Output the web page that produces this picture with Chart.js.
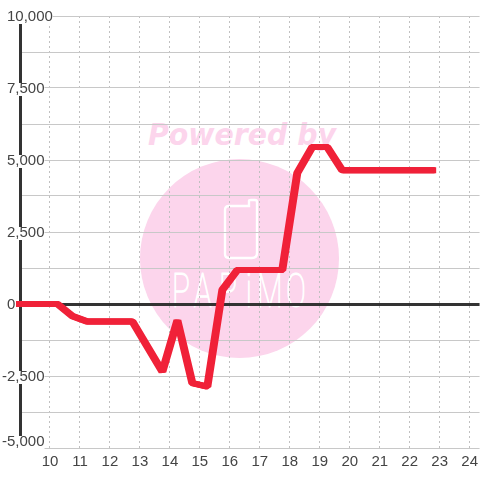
<!DOCTYPE html>
<html>
<head>
<meta charset="utf-8">
<style>
  html, body { margin: 0; background: #fff; }
  #wrap { position: relative; width: 480px; height: 480px; overflow: hidden; }
  #mark { position: absolute; left: 0; top: 0; }
  #chartBox { position: absolute; left: 0; top: 0; width: 483px; height: 480px; }
</style>
<script src="https://cdn.jsdelivr.net/npm/chart.js@4"></script>
</head>
<body>
<div id="wrap">
  <svg id="mark" width="480" height="480">
    <circle cx="239.5" cy="258.5" r="99.5" fill="#fcd5ec"/>
    <text x="148" y="145" textLength="188" lengthAdjust="spacingAndGlyphs" font-family="DejaVu Sans" font-weight="bold" font-style="italic" font-size="30" fill="#fcd5ec">Powered by</text>
    <path d="M229 206 H249 V201 Q249 200 251 200 H255 Q257 200 257 202 V253 Q257 258 252 258 H229 Q225 258 225 254 V210 Q225 206 229 206 Z" fill="none" stroke="#fff" stroke-width="2.4"/>
    <text transform="translate(172,307) scale(0.62,1)" x="0 35 76 119 137 184" font-family="Roboto" font-weight="100" font-size="48" fill="#fff" stroke="#fff" stroke-width="1.2">PAPiMO</text>
  </svg>
  <div id="chartBox"><canvas id="lineChart" width="483" height="480"></canvas></div>
</div>
<script>
const hours = [9, 10.25, 10.75, 11.25, 12.75, 13.75, 14.25, 14.75, 15.25, 15.75, 16.25, 17.75, 18.25, 18.75, 19.25, 19.75, 22.75];
const balance = [0, 0, -420, -610, -610, -2350, -570, -2750, -2870, 490, 1180, 1180, 4550, 5450, 5450, 4640, 4640];
const majorTicks = [-5000, -2500, 0, 2500, 5000, 7500, 10000];
const firstHourLabel = 10;

// y labels sit a pixel lower, minus sign hangs left, bottom label is pushed up off the axis end
// backdrop coords are relative to the label translation
const nudgeLabels = {
    id: "nudgeLabels",
    beforeDraw(chart){
        chart.scales.y.getLabelItems().forEach(function(item){
            if(item.moved) return;
            item.moved = true;
            const o = item.options;
            o.translation[1] += 1;
            if(o.backdrop){
                o.backdrop.top = -6;
                o.backdrop.height = 13;
            }
            if(String(item.label).startsWith("-")){
                o.translation[0] -= 5;
            }
            if(item.label === "-5,000"){
                o.translation[1] -= 7;
                o.backdrop.height = 15;
            }
        });
    }
};

// the pen is wider than tall: stroke the line again a pixel to each side
const widePen = {
    id: "widePen",
    beforeDatasetDraw(chart, args){
        const ctx = chart.ctx;
        [-1, 1].forEach(function(dx){
            ctx.save();
            ctx.translate(dx, 0);
            args.meta.dataset.draw(ctx, chart.chartArea);
            ctx.restore();
        });
    }
};

const lineChart = new Chart(
    document.getElementById("lineChart"),
    {
        type: "line",
        data: {
            labels: hours,
            datasets: [{
                data: hours.map(function(h, i){ return { x: h, y: balance[i] }; }),
                borderColor: "#f02138",
                borderWidth: 6,
                borderCapStyle: "square",
                borderJoinStyle: "bevel",
                pointRadius: 0,
                tension: 0,
                clip: false
            }]
        },
        plugins: [nudgeLabels, widePen],
        options: {
            responsive: false,
            animation: false,
            layout: { autoPadding: false, padding: { left: 20, top: 16, right: 0, bottom: 0 } },
            plugins: { legend: { display: false }, tooltip: { enabled: false } },
            scales: {
                x: {
                    type: "linear",
                    min: 9,
                    max: 24.33,
                    afterFit(scale){ scale.height = 32; },
                    border: { display: false, dash: [2, 3] },
                    grid: {
                        lineWidth: 1,
                        drawTicks: false,
                        color(c){ return c.tick.value < firstHourLabel ? "transparent" : "#c0c0c0"; }
                    },
                    ticks: {
                        stepSize: 1,
                        includeBounds: false,
                        autoSkip: false,
                        maxRotation: 0,
                        padding: 5,
                        color: "#444",
                        font: { family: "Liberation Sans", size: 15 },
                        callback(v){ return v >= firstHourLabel ? String(v) : ""; }
                    }
                },
                y: {
                    min: -5000,
                    max: 10000,
                    afterFit(scale){ scale.width = 0; },
                    border: { color: "#333", width: 3 },
                    grid: {
                        drawTicks: false,
                        color(c){ return c.tick.value === 0 ? "#333" : "#c8c8c8"; },
                        lineWidth(c){ return c.tick.value === 0 ? 3 : 1; }
                    },
                    ticks: {
                        stepSize: 1250,
                        autoSkip: false,
                        mirror: true,
                        padding: -13,
                        color: "#444",
                        font: { family: "Liberation Sans", size: 15 },
                        showLabelBackdrop: true,
                        backdropColor: "#fff",
                        backdropPadding: 0,
                        callback(v){ return majorTicks.includes(v) ? v.toLocaleString("en-US") : ""; }
                    }
                }
            }
        }
    }
);
</script>
</body>
</html>
